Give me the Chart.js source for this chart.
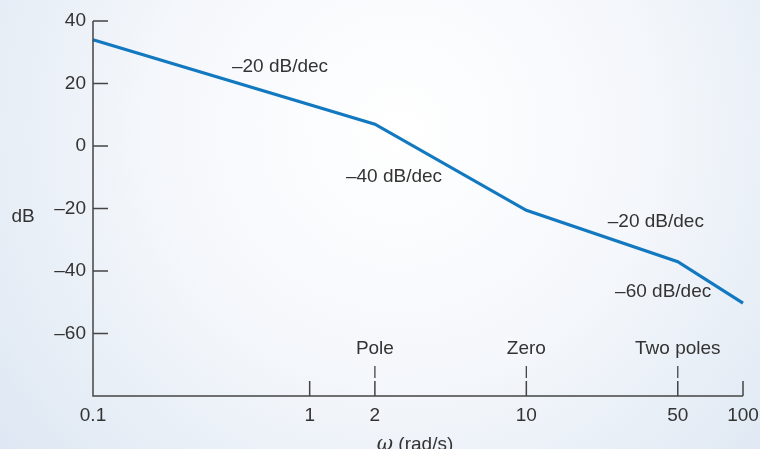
<!DOCTYPE html>
<html>
<head>
<meta charset="utf-8">
<script src="https://cdn.jsdelivr.net/npm/chart.js@4"></script>
<style>
  html, body { margin: 0; padding: 0; }
  #wrap { width: 760px; height: 449px; }
</style>
</head>
<body>
<div id="wrap"><canvas id="bode" width="760" height="449"></canvas></div>
<script>
// asymptotic magnitude plot, corners
const omega = [0.1, 2, 10, 50, 100];
const magnitude = [34, 7, -20.6, -37, -50.3];

const xTicks = [0.1, 1, 2, 10, 50, 100];
const yTicks = [40, 20, 0, -20, -40, -60];

// break frequencies marked under the curve
const breakFreqs = [2, 10, 50];
const breakNames = ["Pole", "Zero", "Two poles"];

// slope labels (data coordinates)
const slopeText = ["\u201320 dB/dec", "\u201340 dB/dec", "\u201320 dB/dec", "\u201360 dB/dec"];
const slopeX = [0.73, 2.45, 39.6, 42.8];
const slopeY = [25.3, -9.9, -24.3, -46.7];

const FONT = "'Liberation Sans', Arial, sans-serif";
const FSIZE = 19;
const INK = "#333333";
const AXIS = "#444444";

const backdrop = {
  id: "backdrop",
  beforeDraw(chart) {
    const { ctx, width, height } = chart;
    const g = ctx.createRadialGradient(400, 130, 0, 400, 130, 560);
    g.addColorStop(0, "#ffffff");
    g.addColorStop(0.45, "#f4f7fb");
    g.addColorStop(1, "#d9e4f1");
    ctx.save();
    ctx.fillStyle = g;
    ctx.fillRect(0, 0, width, height);
    ctx.restore();
  }
};

// axis lines, inward ticks and all the text labels
const decorations = {
  id: "decorations",
  afterDraw(chart) {
    const { ctx } = chart;
    const xs = chart.scales.x, ys = chart.scales.y;
    const left = xs.getPixelForValue(0.1);
    const right = xs.getPixelForValue(100);
    const top = ys.getPixelForValue(40);
    const bottom = ys.getPixelForValue(-80);
    ctx.save();
    ctx.strokeStyle = AXIS;
    ctx.lineWidth = 1.5;
    ctx.beginPath();
    ctx.moveTo(left, top);
    ctx.lineTo(left, bottom);
    ctx.lineTo(right, bottom);
    yTicks.forEach(v => {
      const p = ys.getPixelForValue(v);
      ctx.moveTo(left, p);
      ctx.lineTo(left + 15, p);
    });
    xTicks.slice(1).forEach(v => {
      const p = xs.getPixelForValue(v);
      ctx.moveTo(p, bottom);
      ctx.lineTo(p, bottom - 15);
    });
    ctx.stroke();

    ctx.lineWidth = 1.3;
    ctx.beginPath();
    breakFreqs.forEach(v => {
      const p = xs.getPixelForValue(v);
      ctx.moveTo(p, bottom - 18);
      ctx.lineTo(p, bottom - 30);
    });
    ctx.stroke();

    ctx.fillStyle = INK;
    ctx.font = FSIZE + "px " + FONT;
    ctx.textAlign = "center";
    ctx.textBaseline = "middle";
    breakFreqs.forEach((v, i) => {
      ctx.fillText(breakNames[i], xs.getPixelForValue(v), bottom - 47);
    });
    slopeText.forEach((t, i) => {
      ctx.fillText(t, xs.getPixelForValue(slopeX[i]), ys.getPixelForValue(slopeY[i]));
    });

    ctx.fillText("dB", 23, ys.getPixelForValue(-22.8));

    // x axis title: italic omega + units
    const cx = (left + right) / 2 - 3;
    const ty = bottom + 49;
    const omFont = "italic 20px 'DejaVu Serif', 'Liberation Serif', serif";
    ctx.font = omFont;
    const wOm = ctx.measureText("\u03c9").width;
    ctx.font = FSIZE + "px " + FONT;
    const wRest = ctx.measureText(" (rad/s)").width;
    const x0 = cx - (wOm + wRest) / 2;
    ctx.textAlign = "left";
    ctx.font = omFont;
    ctx.fillText("\u03c9", x0, ty);
    ctx.font = FSIZE + "px " + FONT;
    ctx.fillText(" (rad/s)", x0 + wOm, ty);
    ctx.restore();
  }
};

const points = omega.map((w, i) => ({ x: w, y: magnitude[i] }));

new Chart(document.getElementById("bode"), {
  type: "line",
  data: {
    datasets: [{
      data: points,
      borderColor: "#1279c0",
      borderWidth: 3.2,
      pointRadius: 0,
      tension: 0,
      fill: false,
      clip: false
    }]
  },
  options: {
    responsive: false,
    animation: false,
    layout: { padding: { top: 21, right: 17, left: 0, bottom: 0 } },
    plugins: { legend: { display: false }, tooltip: { enabled: false } },
    scales: {
      x: {
        type: "logarithmic",
        min: 0.1,
        max: 100,
        afterBuildTicks(scale) {
          scale.ticks = xTicks.map(v => ({ value: v }));
        },
        afterFit(scale) {
          scale.height = 53;
          scale.paddingLeft = 0;
          scale.paddingRight = 0;
        },
        ticks: {
          autoSkip: false,
          maxRotation: 0,
          padding: 8,
          color: INK,
          font: { family: FONT, size: FSIZE },
          callback: v => String(v)
        },
        grid: { display: false, drawTicks: false },
        border: { display: false }
      },
      y: {
        min: -80,
        max: 40,
        afterBuildTicks(scale) {
          scale.ticks = yTicks.map(v => ({ value: v }));
        },
        afterFit(scale) { scale.width = 93; },
        ticks: {
          padding: 7,
          color: INK,
          font: { family: FONT, size: FSIZE },
          callback: v => (v < 0 ? "\u2013" + Math.abs(v) : String(v))
        },
        grid: { display: false, drawTicks: false },
        border: { display: false }
      }
    }
  },
  plugins: [backdrop, decorations]
});
</script>
</body>
</html>
